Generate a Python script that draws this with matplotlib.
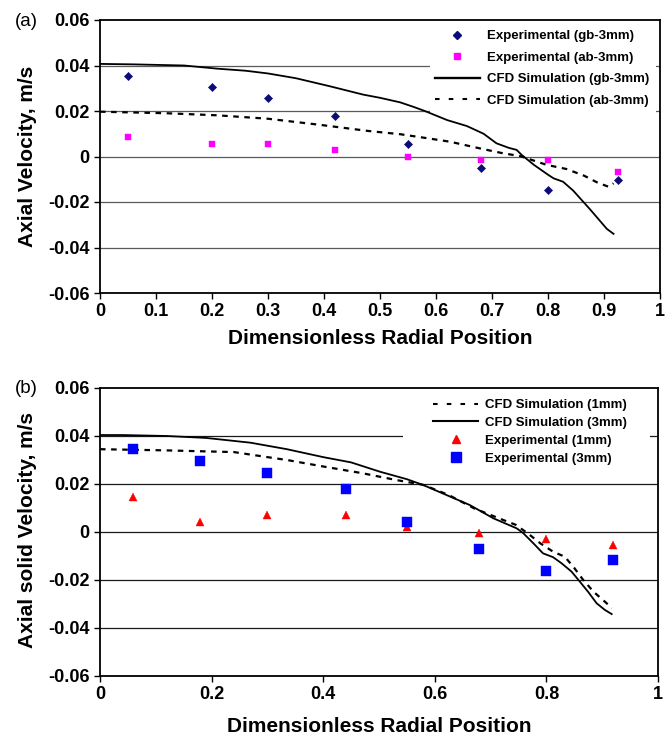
import matplotlib
matplotlib.use("Agg")
import matplotlib.pyplot as plt
from matplotlib.lines import Line2D
from matplotlib.patches import Rectangle

plt.rcParams['font.family'] = ['Liberation Sans', 'DejaVu Sans']
plt.rcParams['axes.unicode_minus'] = False

# ---------------- data: panel (a) ----------------
a_exp_x = [0.05, 0.20, 0.30, 0.42, 0.55, 0.68, 0.80, 0.925]
a_exp_gb = [0.0355, 0.0305, 0.0255, 0.0180, 0.0055, -0.0052, -0.0147, -0.0103]
a_exp_ab = [0.0086, 0.0056, 0.0056, 0.0030, -0.0002, -0.0015, -0.0015, -0.0067]

a_cfd_gb_x = [0, 0.06, 0.15, 0.21, 0.26, 0.30, 0.35, 0.41, 0.47, 0.50, 0.536, 0.56, 0.58,
              0.62, 0.655, 0.685, 0.708, 0.73, 0.744, 0.753, 0.775, 0.80, 0.81, 0.827,
              0.845, 0.86, 0.875, 0.89, 0.905, 0.917]
a_cfd_gb_y = [0.0407, 0.0405, 0.0400, 0.0386, 0.0377, 0.0365, 0.0344, 0.0309, 0.0272,
              0.0258, 0.0238, 0.0218, 0.0200, 0.0160, 0.0134, 0.0100, 0.0058, 0.0038,
              0.0029, 0.0007, -0.0037, -0.0080, -0.0096, -0.0111, -0.0150, -0.0191,
              -0.0232, -0.0275, -0.0318, -0.0340]

a_cfd_ab_x = [0, 0.12, 0.21, 0.30, 0.39, 0.48, 0.536, 0.58, 0.625, 0.685, 0.72, 0.75,
              0.798, 0.833, 0.865, 0.887, 0.908, 0.917]
a_cfd_ab_y = [0.0197, 0.0190, 0.0181, 0.0166, 0.0140, 0.0112, 0.0098, 0.0082, 0.0065,
              0.0032, 0.0014, 0.0002, -0.0037, -0.0055, -0.0085, -0.0113, -0.0133, -0.0118]

a_xticks = [0, 0.1, 0.2, 0.3, 0.4, 0.5, 0.6, 0.7, 0.8, 0.9, 1.0]
a_xticklabels = ['0', '0.1', '0.2', '0.3', '0.4', '0.5', '0.6', '0.7', '0.8', '0.9', '1']

# ---------------- data: panel (b) ----------------
b_exp_x = [0.06, 0.18, 0.30, 0.44, 0.55, 0.68, 0.80, 0.92]
b_exp_1mm = [0.0145, 0.0043, 0.0071, 0.0070, 0.0020, -0.0004, -0.0030, -0.0056]
b_exp_3mm = [0.0345, 0.0297, 0.0245, 0.0178, 0.0040, -0.0070, -0.0161, -0.0116]

b_cfd_3mm_x = [0, 0.04, 0.12, 0.19, 0.27, 0.335, 0.40, 0.45, 0.502, 0.55, 0.579, 0.621,
               0.663, 0.705, 0.747, 0.759, 0.777, 0.794, 0.812, 0.827, 0.845, 0.86, 0.875,
               0.89, 0.905, 0.917]
b_cfd_3mm_y = [0.0404, 0.0404, 0.0400, 0.0392, 0.0372, 0.0345, 0.0312, 0.0290, 0.0251,
               0.0220, 0.0196, 0.0154, 0.0112, 0.0057, 0.0015, -0.0006, -0.0048, -0.0089,
               -0.0105, -0.0130, -0.0165, -0.0207, -0.0250, -0.0297, -0.0325, -0.0342]

b_cfd_1mm_x = [0, 0.12, 0.24, 0.30, 0.335, 0.40, 0.47, 0.53, 0.58, 0.625, 0.671, 0.716,
               0.745, 0.768, 0.789, 0.812, 0.833, 0.85, 0.866, 0.885, 0.908, 0.917]
b_cfd_1mm_y = [0.0345, 0.0340, 0.0333, 0.0312, 0.0300, 0.0273, 0.0245, 0.0217, 0.0196,
               0.0154, 0.0098, 0.0056, 0.0030, -0.0008, -0.0047, -0.0082, -0.0103,
               -0.0150, -0.0200, -0.0250, -0.0297, -0.0318]

b_xticks = [0, 0.2, 0.4, 0.6, 0.8, 1.0]
b_xticklabels = ['0', '0.2', '0.4', '0.6', '0.8', '1']

yticks = [-0.06, -0.04, -0.02, 0, 0.02, 0.04, 0.06]
yticklabels = ['-0.06', '-0.04', '-0.02', '0', '0.02', '0.04', '0.06']

# ---------------- figure ----------------
W, H = 665, 737
fig = plt.figure(figsize=(W / 100, H / 100), dpi=100)

def px_axes(l, r, t, b):
    return fig.add_axes([l / W, (H - b) / H, (r - l) / W, (b - t) / H])

ax_a = px_axes(100, 660, 20, 293)
ax_b = px_axes(100, 658, 388, 676)

tick_fs = 13
leg_fs = 9.5
dash_leg = (0, (2.2, 4.4))


def style_axes(ax, xticks, xticklabels, gridcolor):
    ax.set_xlim(0, 1)
    ax.set_ylim(-0.06, 0.06)
    ax.set_xticks(xticks)
    ax.set_xticklabels(xticklabels, fontsize=tick_fs, fontweight='bold')
    ax.set_yticks(yticks)
    ax.set_yticklabels(yticklabels, fontsize=tick_fs, fontweight='bold')
    ax.tick_params(axis='both', direction='out', length=4, width=1.0, color='black')
    ax.tick_params(axis='x', pad=3.5)
    ax.tick_params(axis='y', pad=3.5)
    for s in ax.spines.values():
        s.set_linewidth(1.3)
        s.set_color('black')
    for yv in yticks[1:-1]:
        ax.axhline(yv, color=gridcolor, lw=0.9, zorder=1)


style_axes(ax_a, a_xticks, a_xticklabels, '#5a5a5a')
style_axes(ax_b, b_xticks, b_xticklabels, '#1a1a1a')

# legend background boxes (white, covering gridlines)
ax_a.add_patch(Rectangle((0.589, 0.652), 0.404, 0.348, transform=ax_a.transAxes,
                         facecolor='white', edgecolor='none', zorder=1.5))
ax_b.add_patch(Rectangle((0.543, 0.715), 0.443, 0.285, transform=ax_b.transAxes,
                         facecolor='white', edgecolor='none', zorder=1.5))

# ---------------- panel (a) ----------------
ax_a.plot(a_cfd_gb_x, a_cfd_gb_y, color='black', lw=1.3, zorder=3)
ax_a.plot(a_cfd_ab_x, a_cfd_ab_y, color='black', lw=1.6, linestyle=(0, (2.5, 2.5)), zorder=3)
ax_a.plot(a_exp_x, a_exp_gb, linestyle='none', marker='D', markersize=4.0,
          color='#0c0c78', markeredgewidth=0.5, zorder=4)
ax_a.plot(a_exp_x, a_exp_ab, linestyle='none', marker='s', markersize=4.6,
          color='#ff00ff', markeredgewidth=0.3, zorder=4)

h_a = [
    Line2D([], [], linestyle='none', marker='D', markersize=4.0, color='#0c0c78'),
    Line2D([], [], linestyle='none', marker='s', markersize=4.6, color='#ff00ff'),
    Line2D([], [], color='black', lw=1.7),
    Line2D([], [], color='black', lw=1.5, linestyle=dash_leg),
]
l_a = ['Experimental (gb-3mm)', 'Experimental (ab-3mm)',
       'CFD Simulation (gb-3mm)', 'CFD Simulation (ab-3mm)']
leg_a = ax_a.legend(h_a, l_a, loc='upper left', bbox_to_anchor=(0.598, 0.963),
                    frameon=False, borderpad=0, borderaxespad=0, numpoints=1,
                    handlelength=3.4, handletextpad=0.55, labelspacing=0.70,
                    prop={'size': leg_fs, 'weight': 'bold'})
leg_a.set_zorder(5)

# ---------------- panel (b) ----------------
ax_b.plot(b_cfd_3mm_x, b_cfd_3mm_y, color='black', lw=1.3, zorder=3)
ax_b.plot(b_cfd_1mm_x, b_cfd_1mm_y, color='black', lw=1.6, linestyle=(0, (2.5, 2.5)), zorder=3)
ax_b.plot(b_exp_x, b_exp_1mm, linestyle='none', marker='^', markersize=5.6,
          color='#ff0000', markeredgewidth=0.3, zorder=4)
ax_b.plot(b_exp_x, b_exp_3mm, linestyle='none', marker='s', markersize=7.2,
          color='#0000ff', markeredgewidth=0.3, zorder=4)

h_b = [
    Line2D([], [], color='black', lw=1.5, linestyle=dash_leg),
    Line2D([], [], color='black', lw=1.5),
    Line2D([], [], linestyle='none', marker='^', markersize=5.2, color='#ff0000'),
    Line2D([], [], linestyle='none', marker='s', markersize=6.8, color='#0000ff'),
]
l_b = ['CFD Simulation (1mm)', 'CFD Simulation (3mm)',
       'Experimental (1mm)', 'Experimental (3mm)']
leg_b = ax_b.legend(h_b, l_b, loc='upper left', bbox_to_anchor=(0.597, 0.962),
                    frameon=False, borderpad=0, borderaxespad=0, numpoints=1,
                    handlelength=3.4, handletextpad=0.55, labelspacing=0.42,
                    prop={'size': leg_fs, 'weight': 'bold'})
leg_b.set_zorder(5)

# ---------------- labels ----------------
lab_fs = 15
fig.text(380 / W, 1 - 338 / H, 'Dimensionless Radial Position', ha='center', va='center',
         fontsize=lab_fs, fontweight='bold')
fig.text(379 / W, 1 - 726 / H, 'Dimensionless Radial Position', ha='center', va='center',
         fontsize=lab_fs, fontweight='bold')
fig.text(28 / W, 1 - 156 / H, 'Axial Velocity, m/s', ha='center', va='center',
         rotation=90, fontsize=lab_fs, fontweight='bold')
fig.text(28 / W, 1 - 530 / H, 'Axial solid Velocity, m/s', ha='center', va='center',
         rotation=90, fontsize=lab_fs, fontweight='bold')
fig.text(26 / W, 1 - 22 / H, '(a)', ha='center', va='center', fontsize=13.5)
fig.text(26 / W, 1 - 388 / H, '(b)', ha='center', va='center', fontsize=13.5)

fig.savefig('out.png', dpi=100)
